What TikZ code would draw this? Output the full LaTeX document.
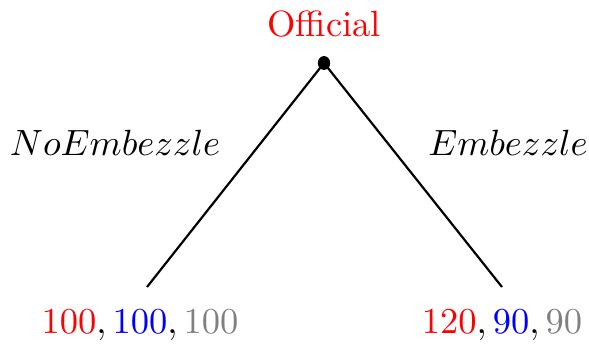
\documentclass[tikz,border=0pt]{standalone}
\usepackage{xcolor}
\begin{document}
\begin{tikzpicture}[x=0.274pt,y=-0.274pt,
  edge/.style={line width=0.6pt},
  lbl/.style={inner sep=0pt,anchor=center}]
\useasboundingbox (0,0) rectangle (589,352);
\fill (324,63) ellipse (1.7pt and 1.9pt);
\coordinate (root) at (324,63);
\coordinate (l) at (147,287);
\coordinate (r) at (502,287);
\node[lbl,text=red] (off) at (324,24) {Official};
\draw[edge] (root) -- (l);
\draw[edge] (root) -- (r);
\node[lbl] (ln) at (115,143) {$NoEmbezzle$};
\node[lbl] (rn) at (508,143) {$Embezzle$};
\node[lbl] (lp) at (140,325) {$\textcolor{red}{100}, \textcolor{blue}{100}, \textcolor{gray}{100}$};
\node[lbl] (rp) at (502,325) {$\textcolor{red}{120}, \textcolor{blue}{90}, \textcolor{gray}{90}$};
\end{tikzpicture}
\end{document}
